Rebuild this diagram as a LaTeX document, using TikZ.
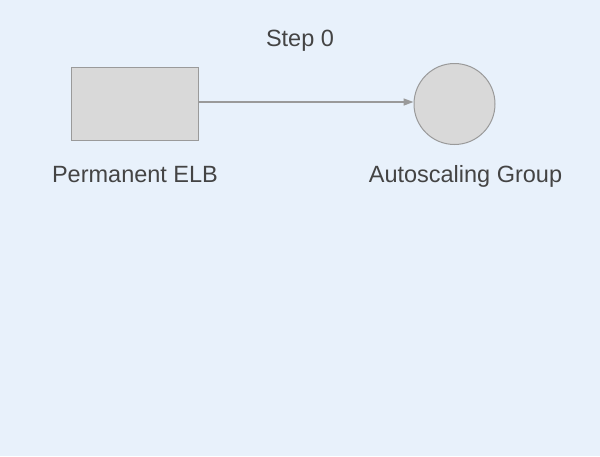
\documentclass[tikz,border=0pt]{standalone}
\usepackage{fontspec}
\setmainfont{Liberation Sans}
\usetikzlibrary{arrows.meta}
\definecolor{bgblue}{HTML}{E8F1FB}
\definecolor{boxfill}{HTML}{D9D9D9}
\definecolor{boxline}{HTML}{9A9A9A}
\definecolor{labeltext}{HTML}{444444}
\begin{document}
\begin{tikzpicture}[x=1pt,y=-1pt,
    shapebox/.style={draw=boxline,fill=boxfill,line width=1pt,inner sep=0pt},
    caption/.style={text=labeltext,font=\fontsize{23.5}{28}\selectfont,inner sep=0pt,anchor=base}]

        % Background and bounding box
        \fill[bgblue] (0,0) rectangle (600,456);
        \useasboundingbox (0,0) rectangle (600,456);

        % Title
        \node[caption] (title) at (300,46) {Step 0};

        % Draw the load balancer and the group
        \node[shapebox,rectangle,minimum width=127pt,minimum height=73pt] (elb) at (135,104) {};
        \node[shapebox,circle,minimum size=81pt] (asg) at (454.5,104) {};

        % Write the names below the shapes
        \node[caption] (elblabel) at (135,182) {Permanent ELB};
        \node[caption] (asglabel) at (465.5,182) {Autoscaling Group};

        % Draw the connection
        \draw[boxline,line width=1.5pt,-{Triangle[length=10pt,width=7pt]}] (elb.east |- 0,102) -- (asg.west |- 0,102);

      \end{tikzpicture}
\end{document}
